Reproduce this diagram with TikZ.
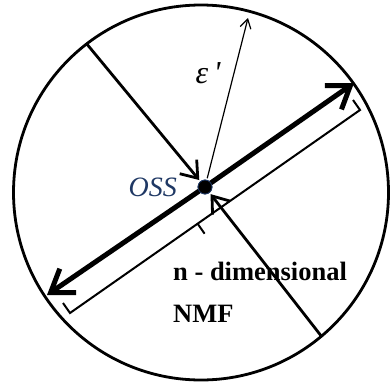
\documentclass[tikz,border=0pt]{standalone}
\usepackage{fontspec}
\setmainfont{Liberation Serif}
\usetikzlibrary{positioning}
\usetikzlibrary{calc}
\usetikzlibrary{arrows.meta}
\definecolor{navy}{RGB}{31,56,100}

\begin{document}
\begin{tikzpicture}[x=1pt, y=-1pt,
    bigtip/.style={-{Straight Barb[length=21pt, width=29pt]}},
    midtip/.style={-{Straight Barb[length=15pt, width=22pt]}},
    thintip/.style={-{Straight Barb[length=9pt, width=11pt]}},
    ossdot/.style={draw=navy, fill=black, circle, minimum size=14pt, inner sep=0pt, line width=0.8pt}]
    \useasboundingbox (0,0) rectangle (390,383);

    \node[draw, circle, minimum size=375pt, inner sep=0pt, line width=2.8pt] (sphere) at (201,192.5) {};
    \node[ossdot, outer sep=2pt] (oss) at (205,187) {};

    % Ends on the sphere
    \coordinate (tl) at (86,43);
    \coordinate (br) at (322,337);
    \coordinate (ur) at (354,83);
    \coordinate (ll) at (47,295);
    \coordinate (eps) at (248,18);

    % Bracket
    \coordinate (bl) at (70,313);
    \coordinate (bu) at (360,110);
    \coordinate (bm) at ($(bl)!0.44!(bu)$);

    \draw[line width=5pt, bigtip] (oss.center) -- (ur);
    \draw[line width=5pt, bigtip] (oss.center) -- (ll);
    \draw[line width=2.8pt, midtip] (tl) -- (oss);
    \draw[line width=2.8pt, midtip] (br) -- (oss);
    \draw[line width=1.2pt, thintip] (oss) -- (eps);
    \node[ossdot] at (oss) {};

    \draw[line width=2pt] ([shift={(-7,-10)}]bl) -- (bl) -- (bu) -- ([shift={(-7,-10)}]bu);
    \draw[line width=2pt] (bm) -- ([shift={(7,10)}]bm);

    % Labels
    \node[left=28pt of oss.center, text=navy, font=\fontsize{28}{28}\selectfont\itshape, inner sep=0pt] (osslabel) {OSS};
    \node[font=\fontsize{32}{32}\selectfont\itshape] (epslabel) at (208,73) {ε\,\textquotesingle};
    \node[anchor=base west, inner sep=0pt, font=\fontsize{26.5}{26.5}\selectfont\bfseries] (dimlabel) at (173,280) {n - dimensional};
    \node[anchor=base west, inner sep=0pt, font=\fontsize{26.5}{26.5}\selectfont\bfseries] (nmflabel) at (173,322) {NMF};
\end{tikzpicture}
\end{document}
